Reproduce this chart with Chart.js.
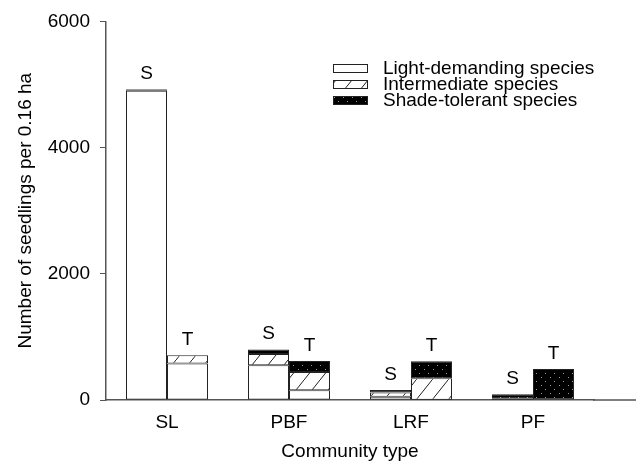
<!DOCTYPE html>
<html>
<head>
<meta charset="utf-8">
<script src="https://cdn.jsdelivr.net/npm/chart.js@4"></script>
<style>
  html, body { margin: 0; padding: 0; background: #fff; }
  #wrap { width: 637px; height: 463px; }
</style>
</head>
<body>
<div id="wrap"><canvas id="seedChart" width="637" height="463"></canvas></div>
<script>
const categories = ['SL', 'PBF', 'LRF', 'PF'];
const stackNames = ['S', 'T'];
const speciesNames = ['Light-demanding species', 'Intermediate species', 'Shade-tolerant species'];

// stack S
const lightS = [4900, 550, 50, 5];
const interS = [20, 180, 70, 15];
const shadeS = [10, 70, 40, 70];
// stack T
const lightT = [580, 155, 5, 0];
const interT = [130, 290, 340, 0];
const shadeT = [0, 175, 270, 490];

const yTicks = [0, 2000, 4000, 6000];

const FONT = '"Liberation Sans", Arial, sans-serif';
const FS = 19;
const canvas = document.getElementById('seedChart');
const ctx = canvas.getContext('2d');

// hatch fill for intermediate species
function hatchPattern() {
  const w = 16, h = 20;
  const c = document.createElement('canvas');
  c.width = w; c.height = h;
  const g = c.getContext('2d');
  g.fillStyle = '#fff';
  g.fillRect(0, 0, w, h);
  g.strokeStyle = '#222';
  g.lineWidth = 1;
  g.beginPath();
  g.moveTo(-w * 0.1, h * 1.1);
  g.lineTo(w * 1.1, -h * 0.1);
  g.stroke();
  return ctx.createPattern(c, 'repeat');
}

// dotted black fill for shade-tolerant species
function dotPattern() {
  const w = 9, h = 8;
  const c = document.createElement('canvas');
  c.width = w; c.height = h;
  const g = c.getContext('2d');
  g.fillStyle = '#000';
  g.fillRect(0, 0, w, h);
  g.fillStyle = '#9a9a9a';
  g.fillRect(1, 1, 1, 1);
  g.fillRect(5, 5, 1, 1);
  return ctx.createPattern(c, 'repeat');
}

const fills = ['#fff', hatchPattern(), dotPattern()];

function makeSet(label, data, fill, stack) {
  return {
    label: label,
    data: data,
    stack: stack,
    backgroundColor: fill,
    borderColor: '#222',
    borderWidth: 1,
    borderSkipped: false,
    categoryPercentage: 0.672,
    barPercentage: 1.0
  };
}

// S / T letters over each stack, legend inside plot, long baseline
const extras = {
  id: 'extras',
  afterDatasetsDraw(chart) {
    const c = chart.ctx;
    const area = chart.chartArea;
    c.save();
    c.font = FS + 'px ' + FONT;
    c.fillStyle = '#000';
    c.textAlign = 'center';
    c.textBaseline = 'bottom';
    stackNames.forEach(function (st) {
      for (let i = 0; i < categories.length; i++) {
        let top = Infinity, x = 0;
        chart.data.datasets.forEach(function (ds, di) {
          if (ds.stack !== st) return;
          const el = chart.getDatasetMeta(di).data[i];
          if (el.y < top) { top = el.y; x = el.x; }
        });
        c.fillText(st, x, top - 6);
      }
    });

    // baseline extends past last category
    c.strokeStyle = '#555';
    c.lineWidth = 1.5;
    c.beginPath();
    c.moveTo(area.right - 1, area.bottom);
    c.lineTo(636, area.bottom);
    c.stroke();

    // legend
    const bx = 333, bw = 34, bh = 8;
    const rows = [68, 84, 100];
    c.textAlign = 'left';
    c.textBaseline = 'middle';
    speciesNames.forEach(function (name, k) {
      const y = rows[k];
      c.fillStyle = fills[k];
      c.fillRect(bx, y - bh / 2, bw, bh);
      c.strokeStyle = '#222';
      c.lineWidth = 1;
      c.strokeRect(bx + 0.5, y - bh / 2 + 0.5, bw, bh);
      c.fillStyle = '#000';
      c.fillText(name, 383, y + 1);
    });
    c.restore();
  }
};

new Chart(ctx, {
  type: 'bar',
  data: {
    labels: categories,
    datasets: [
      makeSet(speciesNames[0], lightS, fills[0], 'S'),
      makeSet(speciesNames[1], interS, fills[1], 'S'),
      makeSet(speciesNames[2], shadeS, fills[2], 'S'),
      makeSet(speciesNames[0], lightT, fills[0], 'T'),
      makeSet(speciesNames[1], interT, fills[1], 'T'),
      makeSet(speciesNames[2], shadeT, fills[2], 'T')
    ]
  },
  options: {
    responsive: false,
    animation: false,
    layout: { padding: { top: 8, right: 43, left: 0, bottom: 0 } },
    plugins: {
      legend: { display: false },
      tooltip: { enabled: false }
    },
    scales: {
      x: {
        stacked: true,
        grid: { display: false, drawTicks: false },
        border: { display: true, color: '#555', width: 1.5 },
        ticks: { color: '#000', font: { family: FONT, size: FS }, padding: 11 },
        title: {
          display: true,
          text: 'Community type',
          color: '#000',
          font: { family: FONT, size: FS },
          padding: { top: 4, bottom: 0 }
        },
        afterFit(scale) { scale.height = 63; }
      },
      y: {
        stacked: true,
        min: 0,
        max: 6000,
        afterBuildTicks(scale) {
          scale.ticks = yTicks.map(function (v) { return { value: v }; });
        },
        grid: { drawOnChartArea: false, drawTicks: true, tickLength: 6, color: '#555' },
        border: { display: true, color: '#555', width: 1.5 },
        ticks: {
          color: '#000',
          font: { family: FONT, size: FS },
          padding: 10,
          callback: function (v) { return String(v); }
        },
        title: {
          display: true,
          text: 'Number of seedlings per 0.16 ha',
          color: '#000',
          font: { family: FONT, size: FS },
          padding: { top: 14, bottom: 4 }
        },
        afterFit(scale) { scale.width = 106; }
      }
    }
  },
  plugins: [extras]
});
</script>
</body>
</html>
